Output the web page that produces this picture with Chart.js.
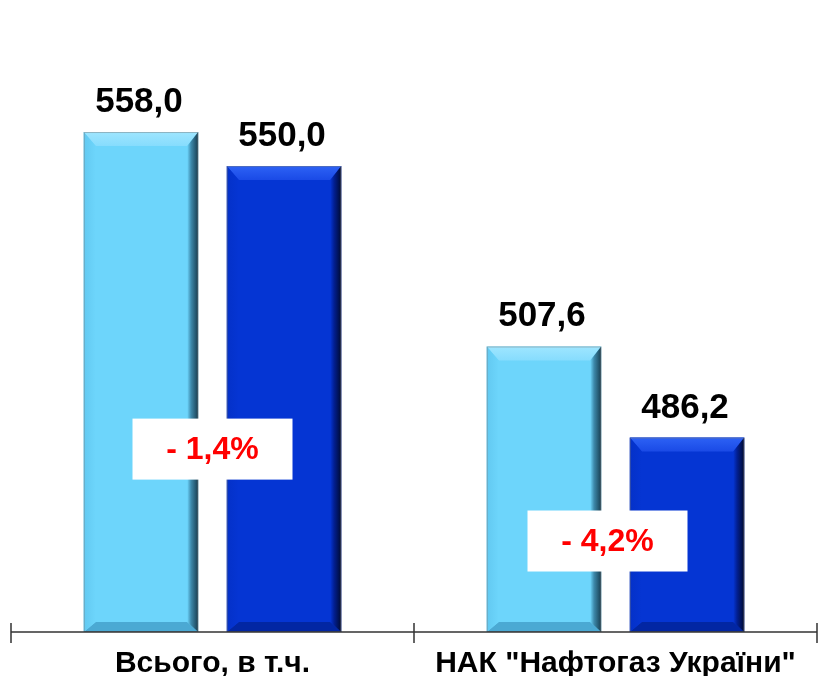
<!DOCTYPE html>
<html>
<head>
<meta charset="utf-8">
<script src="https://cdn.jsdelivr.net/npm/chart.js@4/dist/chart.umd.min.js"></script>
<style>
  body { margin: 0; background: #fff; }
  #wrap { width: 818px; height: 680px; }
</style>
</head>
<body>
<div id="wrap"><canvas id="gasChart" width="818" height="680"></canvas></div>
<script>
// Data
const categories = ['Всього, в т.ч.', 'НАК "Нафтогаз України"'];
const prevYear = [558.0, 507.6];
const currYear = [550.0, 486.2];
const changeText = ['- 1,4%', '- 4,2%'];
const changeLevel = [483.6, 462.0];   // value level where the change box sits
const changeShift = [0, -8];          // horizontal nudge of the box, px
const yMin = 440.5;
const yMax = 585.5;

const FONT = '"Liberation Sans", Arial, sans-serif';

function fmt(v) {
  return v.toFixed(1).replace('.', ',');
}

// bevelled look for each bar
const bevelPlugin = {
  id: 'bevel',
  afterDatasetsDraw(chart) {
    const ctx = chart.ctx;
    const shades = [
      { top: '#9fe6ff', topIn: '#86dcfd', left: '#62c9f1', bottom: '#4ba9d3', right: '#3d89ab', edge: '#173d50' },
      { top: '#2d62f5', topIn: '#1a4ae6', left: '#0431c8', bottom: '#0226a3', right: '#021f92', edge: '#000a30' }
    ];
    chart.data.datasets.forEach((ds, di) => {
      const s = shades[di];
      chart.getDatasetMeta(di).data.forEach(bar => {
        const l = bar.x - bar.width / 2, r = bar.x + bar.width / 2;
        const t = bar.y, b = bar.base;
        const bt = 14, bb = 10, br = 11, bl = 12;
        ctx.save();
        // top
        let g = ctx.createLinearGradient(0, t, 0, t + bt);
        g.addColorStop(0, s.top);
        g.addColorStop(1, s.topIn);
        ctx.fillStyle = g;
        ctx.beginPath();
        ctx.moveTo(l, t); ctx.lineTo(r, t); ctx.lineTo(r - br, t + bt); ctx.lineTo(l + bl, t + bt);
        ctx.closePath(); ctx.fill();
        // bottom
        ctx.fillStyle = s.bottom;
        ctx.beginPath();
        ctx.moveTo(l, b); ctx.lineTo(r, b); ctx.lineTo(r - br, b - bb); ctx.lineTo(l + bl, b - bb);
        ctx.closePath(); ctx.fill();
        // left
        g = ctx.createLinearGradient(l, 0, l + bl, 0);
        g.addColorStop(0, s.left);
        g.addColorStop(1, ds.backgroundColor);
        ctx.fillStyle = g;
        ctx.beginPath();
        ctx.moveTo(l, t); ctx.lineTo(l + bl, t + bt); ctx.lineTo(l + bl, b - bb); ctx.lineTo(l, b);
        ctx.closePath(); ctx.fill();
        // right
        g = ctx.createLinearGradient(r - br, 0, r, 0);
        g.addColorStop(0, ds.backgroundColor);
        g.addColorStop(0.35, s.right);
        g.addColorStop(1, s.edge);
        ctx.fillStyle = g;
        ctx.beginPath();
        ctx.moveTo(r, t); ctx.lineTo(r, b); ctx.lineTo(r - br, b - bb); ctx.lineTo(r - br, t + bt);
        ctx.closePath(); ctx.fill();
        ctx.strokeStyle = 'rgba(120,120,120,0.45)';
        ctx.lineWidth = 1;
        ctx.strokeRect(l + 0.5, t + 0.5, bar.width - 1, b - t - 1);
        ctx.restore();
      });
    });
  }
};

// value labels, axis ticks and change boxes
const labelPlugin = {
  id: 'labels',
  afterDraw(chart) {
    const ctx = chart.ctx;
    const xs = chart.scales.x, ys = chart.scales.y;
    ctx.save();
    // values above bars
    ctx.font = 'bold 35px ' + FONT;
    ctx.fillStyle = '#000';
    ctx.textAlign = 'center';
    ctx.textBaseline = 'alphabetic';
    chart.data.datasets.forEach((ds, di) => {
      chart.getDatasetMeta(di).data.forEach((bar, i) => {
        ctx.fillText(fmt(ds.data[i]), bar.x - 2, bar.y - 20);
      });
    });
    // axis line with ticks
    const yAxis = ys.bottom;
    ctx.strokeStyle = '#333';
    ctx.lineWidth = 1.5;
    ctx.beginPath();
    ctx.moveTo(xs.left, yAxis); ctx.lineTo(xs.right, yAxis);
    const n = categories.length;
    for (let i = 0; i <= n; i++) {
      const x = xs.left + i * xs.width / n;
      ctx.moveTo(x, yAxis - 9); ctx.lineTo(x, yAxis + 11);
    }
    ctx.stroke();
    // change boxes
    ctx.font = 'bold 32px ' + FONT;
    ctx.textBaseline = 'middle';
    changeText.forEach((txt, i) => {
      const cx = xs.getPixelForValue(i) + changeShift[i];
      const cy = ys.getPixelForValue(changeLevel[i]);
      ctx.fillStyle = '#fff';
      ctx.fillRect(cx - 80, cy - 30, 160, 61);
      ctx.fillStyle = '#ff0000';
      ctx.fillText(txt, cx, cy + 2);
    });
    ctx.restore();
  }
};

new Chart(document.getElementById('gasChart').getContext('2d'), {
  type: 'bar',
  data: {
    labels: categories,
    datasets: [
      {
        label: '2012',
        data: prevYear,
        backgroundColor: '#6dd5fb',
        borderWidth: 0,
        base: yMin,
        categoryPercentage: 0.71,
        barPercentage: 0.8
      },
      {
        label: '2013',
        data: currYear,
        backgroundColor: '#0535d3',
        borderWidth: 0,
        base: yMin,
        categoryPercentage: 0.71,
        barPercentage: 0.8
      }
    ]
  },
  options: {
    responsive: false,
    animation: false,
    layout: { padding: { left: 11, right: 1, top: 15, bottom: 4 } },
    plugins: {
      legend: { display: false },
      tooltip: { enabled: false }
    },
    scales: {
      x: {
        grid: { display: false },
        border: { display: false },
        afterFit(scale) { scale.height = 44; },
        ticks: {
          color: '#000',
          padding: 6,
          maxRotation: 0,
          font: { family: FONT, size: 30, weight: 'bold' }
        }
      },
      y: {
        display: false,
        min: yMin,
        max: yMax
      }
    }
  },
  plugins: [bevelPlugin, labelPlugin]
});
</script>
</body>
</html>
